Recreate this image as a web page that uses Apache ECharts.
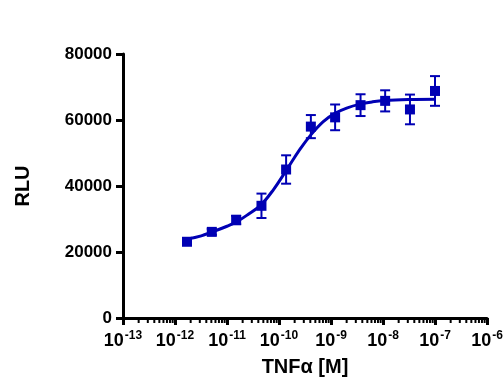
<!DOCTYPE html>
<html>
<head>
<meta charset="utf-8">
<script src="https://cdn.jsdelivr.net/npm/echarts@6/dist/echarts.min.js"></script>
<style>
  html, body { margin: 0; padding: 0; background: #fff; }
  #chart { width: 504px; height: 383px; }
</style>
</head>
<body>
<div id="chart"></div>
<script>
// measured points (3-fold dilution of TNFa)
const doseM = [1.7e-12, 5.1e-12, 1.5e-11, 4.6e-11, 1.37e-10, 4.1e-10, 1.2e-9, 3.7e-9, 1.1e-8, 3.3e-8, 1e-7];
const meanRLU = [23100, 26100, 29700, 34000, 45000, 58000, 60800, 64500, 65800, 63200, 68800];
const errRLU = [700, 900, 1300, 3700, 4300, 3500, 3900, 3300, 3200, 4500, 4500];

// fitted curve
const curveX = [1.7e-12, 3.2e-12, 5.0e-12, 1.0e-11, 1.55e-11, 2.5e-11, 4.5e-11, 7.9e-11, 1.35e-10, 2.5e-10, 4.1e-10, 7.1e-10, 1.19e-9, 2.0e-9, 3.6e-9, 6.3e-9, 1.08e-8, 3.2e-8, 1e-7];
const curveY = [23900, 24900, 26000, 27800, 29200, 31300, 34300, 39000, 44500, 51000, 55500, 59500, 62000, 63600, 64800, 65500, 65900, 66200, 66300];

const yTicks = [0, 20000, 40000, 60000, 80000];
const minorSteps = [2, 3, 4, 5, 6, 7, 8, 9];
const decades = [-13, -12, -11, -10, -9, -8, -7];

const blue = '#0000b4';

const minorTicks = [];
decades.forEach(d => {
  minorSteps.forEach(m => minorTicks.push([m * Math.pow(10, d), 0]));
});

const chart = echarts.init(document.getElementById('chart'));

chart.setOption({
  animation: false,
  grid: { left: 123, right: 17, top: 54, bottom: 65, outerBoundsMode: 'none', containLabel: false },
  xAxis: {
    type: 'log',
    logBase: 10,
    min: 1e-13,
    max: 1e-6,
    splitNumber: 7,
    name: 'TNF\u03b1 [M]',
    nameLocation: 'middle',
    nameGap: 39,
    nameTextStyle: { fontFamily: 'Liberation Sans', fontWeight: 'bold', fontSize: 20, color: '#000' },
    axisLine: { lineStyle: { color: '#000', width: 3 } },
    axisTick: { length: 7, lineStyle: { color: '#000', width: 3 } },
    splitLine: { show: false },
    axisLabel: {
      margin: 12,
      formatter: v => '{b|10}{s|' + Math.round(Math.log10(v)) + '}',
      rich: {
        b: { fontFamily: 'Liberation Sans', fontWeight: 'bold', fontSize: 18, color: '#000' },
        s: { fontFamily: 'Liberation Sans', fontWeight: 'bold', fontSize: 12, color: '#000', padding: [0, 0, 11, 1] }
      }
    }
  },
  yAxis: {
    type: 'value',
    min: 0,
    max: 80000,
    interval: 20000,
    name: 'RLU',
    nameLocation: 'middle',
    nameGap: 90,
    nameRotate: 90,
    nameTextStyle: { fontFamily: 'Liberation Sans', fontWeight: 'bold', fontSize: 20, color: '#000' },
    axisLine: { show: true, lineStyle: { color: '#000', width: 3 } },
    axisTick: { show: true, length: 7, lineStyle: { color: '#000', width: 3 } },
    splitLine: { show: false },
    axisLabel: {
      margin: 11,
      fontFamily: 'Liberation Sans', fontWeight: 'bold', fontSize: 17, color: '#000',
      formatter: v => yTicks.includes(v) ? String(v) : ''
    }
  },
  series: [
    {
      name: 'minor ticks',
      type: 'custom',
      clip: false,
      silent: true,
      data: minorTicks,
      renderItem: (params, api) => {
        const p = api.coord([api.value(0), 0]);
        return {
          type: 'line',
          shape: { x1: p[0], y1: p[1], x2: p[0], y2: p[1] + 5 },
          style: { stroke: '#000', lineWidth: 2 }
        };
      }
    },
    {
      name: 'fit',
      type: 'line',
      data: curveX.map((x, i) => [x, curveY[i]]),
      smooth: 0.4,
      showSymbol: false,
      lineStyle: { color: blue, width: 3 },
      z: 2
    },
    {
      name: 'error',
      type: 'custom',
      data: doseM.map((x, i) => [x, meanRLU[i] - errRLU[i], meanRLU[i] + errRLU[i]]),
      renderItem: (params, api) => {
        const lo = api.coord([api.value(0), api.value(1)]);
        const hi = api.coord([api.value(0), api.value(2)]);
        const w = 5;
        const st = { stroke: blue, lineWidth: 2 };
        return {
          type: 'group',
          children: [
            { type: 'line', shape: { x1: lo[0], y1: lo[1], x2: hi[0], y2: hi[1] }, style: st },
            { type: 'line', shape: { x1: lo[0] - w, y1: lo[1], x2: lo[0] + w, y2: lo[1] }, style: st },
            { type: 'line', shape: { x1: hi[0] - w, y1: hi[1], x2: hi[0] + w, y2: hi[1] }, style: st }
          ]
        };
      },
      z: 3
    },
    {
      name: 'RLU',
      type: 'scatter',
      data: doseM.map((x, i) => [x, meanRLU[i]]),
      symbol: 'rect',
      symbolSize: 10,
      itemStyle: { color: blue, opacity: 1 },
      z: 4
    }
  ]
});
</script>
</body>
</html>
